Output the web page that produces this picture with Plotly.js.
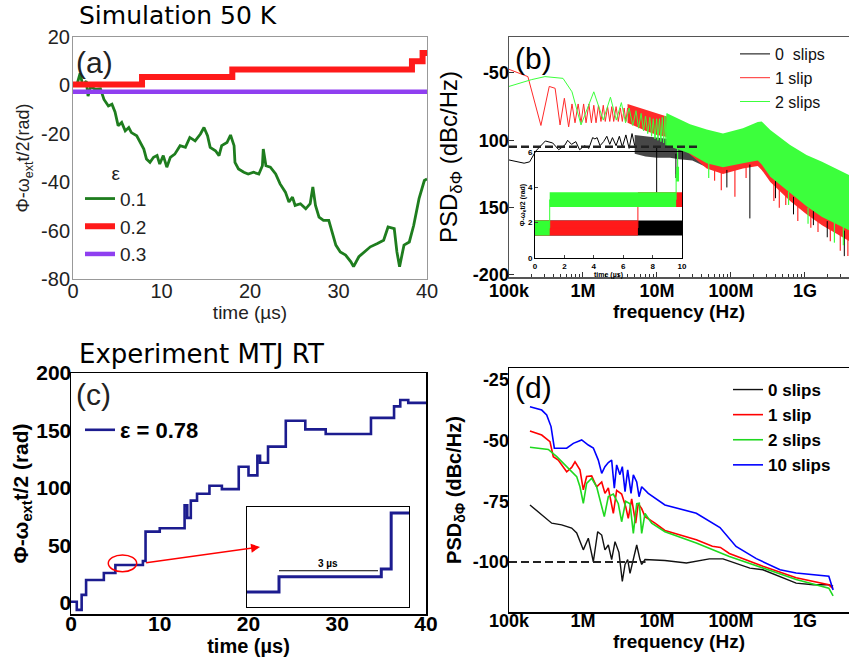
<!DOCTYPE html>
<html><head><meta charset="utf-8">
<script src="https://cdn.plot.ly/plotly-3.0.1.min.js"></script>
<style>html,body{margin:0;padding:0;background:#fff}#p{width:849px;height:657px}</style>
</head><body><div id="p"></div>
<script>
// ---------- Panel (a): simulation phase vs time ----------
const aGreenT = [0,0.5,0.8,1.1,1.5,1.7,2.0,2.5,3.1,3.5,4.0,4.4,4.75,5.1,5.5,5.9,6.3,6.6,7.2,7.6,8.0,8.3,8.7,9.1,9.5,9.8,10.2,10.6,11.0,11.5,12.1,12.7,13.2,13.8,14.4,14.8,15.2,15.5,16.1,16.5,16.8,17.4,17.8,18.2,18.3,18.7,19.3,19.8,20.4,21.0,21.4,21.5,21.8,22.3,22.9,23.4,24.0,24.4,24.8,25.1,25.7,26.3,26.8,27.1,27.4,27.8,28.3,28.9,29.3,29.7,30.2,30.8,31.4,31.7,32.3,32.9,33.6,34.4,35.1,35.6,36.3,36.6,36.9,37.4,38.0,38.5,39.1,39.7,40];
const aGreenV = [0,1,5,0,1.8,-4.4,-0.5,-1.6,-1.4,-5.8,-8.5,-7.8,-11,-16.7,-15.3,-18.8,-17.4,-19.5,-20.8,-23.6,-26.3,-30.4,-31.8,-29.7,-29,-32.5,-29,-33.8,-29.7,-28.4,-24.9,-25.6,-21.5,-22.9,-20.1,-17.4,-20.8,-25.6,-27,-29,-24.9,-23.6,-20.5,-24.9,-31.8,-34.5,-35.9,-36.6,-35.9,-36.6,-33.2,-26.3,-33.2,-33.8,-36.6,-40.7,-44.1,-48.2,-46.2,-49.6,-48.9,-51,-48.9,-42,-49.6,-54.4,-55.8,-55.8,-60.5,-66,-68.8,-70.1,-72.9,-74.9,-70.8,-68.8,-66.7,-65.3,-64,-58.5,-59.2,-68.8,-74.9,-66,-64.7,-57.8,-46.8,-39.3,-38.6];
const aRedT = [0,7.8,18.0,38.3,39.5,40];
const aRedV = [0.4,3.5,6.6,10,13.4,13.4];
const aPurpleT = [0,40];
const aPurpleV = [-2.6,-2.6];
const aLegend = ['0.1','0.2','0.3'];

// ---------- Panel (b): simulated PSD ----------
const bBlackF = [1e5,1.6e5,1.9e5,2.3e5,3.1e5,3.9e5,4.7e5,5.7e5,6.2e5,7e5,8e5,9e5,1.05e6,1.2e6,1.35e6,1.45e6,1.55e6,1.7e6,1.9e6,2.1e6,2.3e6,2.5e6,2.8e6,3.1e6,3.4e6,3.8e6,4.2e6,4.6e6,5e6];
const bBlackV = [-114.6,-117,-116,-108,-100.5,-102,-107,-103.5,-100,-103,-101,-107,-104,-106,-98,-99,-98,-104,-101,-97,-103,-98,-104,-97,-105,-96,-106,-95,-104];
const bRedF = [1e5,1.8e5,2.7e5,3.5e5,4.2e5,4.9e5,5.6e5,6.4e5,7.1e5,7.8e5,8.6e5,9.4e5,1.02e6,1.1e6,1.2e6,1.3e6,1.4e6,1.5e6,1.62e6,1.75e6,1.88e6,2.0e6,2.15e6,2.3e6,2.45e6,2.6e6,2.8e6,3.0e6,3.2e6,3.4e6,3.6e6,3.8e6,4.0e6];
const bRedV = [-47.3,-52.7,-89,-60,-61.4,-88.6,-68.8,-90,-73,-87,-73,-87,-73,-87,-73,-87,-74,-87,-74,-86,-74,-86,-75,-86,-75,-86,-75,-86,-76,-86,-76,-86,-76];
const bGreenF = [1e5,2e5,3.06e5,5.37e5,7.1e5,9.4e5,1.4e6,1.88e6,2.35e6,2.82e6,3.3e6,3.76e6,4.2e6,4.7e6,5.2e6,5.64e6,6.1e6,6.58e6,7.0e6,7.5e6,8.0e6,8.46e6,8.9e6,9.4e6,9.9e6,1.03e7,1.08e7,1.13e7,1.18e7,1.23e7,1.28e7,1.33e7,1.36e7];
const bGreenV = [-60,-55,-52.7,-54,-64,-88.6,-64,-85,-68,-85,-72,-87,-76,-89,-78,-91,-80,-93,-82,-95,-83,-97,-84,-99,-84,-100,-84,-101,-83,-102,-82,-104,-80];
// dense high-frequency envelopes
const bBlackBandF = [5e6,7e6,1e7,1.5e7,2e7,3e7,4.7e7,7.8e7,1.45e8,2.3e8,3.4e8,6.3e8,1.05e9,1.7e9,4e9];
const bBlackUp = [-96,-97,-98,-99,-100,-102,-106,-104,-100,-95,-101,-110,-117,-122,-132];
const bBlackLo = [-110,-112,-113,-113,-114,-115,-120,-123,-120,-118,-129,-142,-152,-161,-171];
const bRedBandF = [4e6,7e6,1e7,1.5e7,2.5e7,4.7e7,7.8e7,1.45e8,2.3e8,2.6e8,3.4e8,6.3e8,1.05e9,1.7e9,4e9];
const bRedUp = [-73,-77,-80,-83,-88,-94,-96,-92,-88,-87,-94,-105,-112,-117,-127];
const bRedLo = [-87,-93,-96,-98,-108,-121,-125,-121,-119,-122,-131,-145,-155,-163,-175];
const bGreenBandF = [1.36e7,2.0e7,2.8e7,4.7e7,7.8e7,1.45e8,2.3e8,2.6e8,3.4e8,6.3e8,1.05e9,1.7e9,4e9];
const bGreenUp = [-80,-84,-88,-92,-95,-91,-86.5,-86,-92.4,-103.5,-111,-116,-126];
const bGreenLo = [-104,-107,-110,-117,-120,-117,-115,-118,-127,-139,-149,-157,-167];
// deepest dips
const bRedSpikeF = [6e7,7.4e7,1.13e8,1.6e8,3.8e8,4.5e8,5.5e8,8e8,1.2e9,1.5e9,2.2e9,3e9,3.8e9];
const bRedSpikeTop = [-118,-120,-119,-117,-132,-135,-139,-146,-152,-156,-161,-165,-168];
const bRedSpikeBot = [-130,-137,-142,-128,-145,-150,-148,-160,-165,-168,-175,-182,-186];
const bBlackSpikeF = [9.9e6,1.8e7,8.8e7,1.8e8,4e8,7e8,1.3e9,2e9,3.4e9];
const bBlackSpikeTop = [-105,-110,-122,-118,-130,-142,-152,-160,-167];
const bBlackSpikeBot = [-139,-128,-135,-158,-143,-155,-163,-172,-186];
const bGreenSpikeF = [1.9e7,5e7,6e8,1.1e9,2.5e9,3.3e9];
const bGreenSpikeTop = [-105,-115,-138,-150,-160,-163];
const bGreenSpikeBot = [-125,-128,-148,-162,-176,-178];
const bFloorF = [1e5,3.5e7];
const bFloorV = [-104.7,-104.7];
const bLegend = ['0  slips','1 slip','2 slips'];
// inset of (b): phase steps
const bInBlackT = [0,10];   const bInBlackL = [1.7];
const bInRedT = [0,7,10];   const bInRedL = [1.7,3.3];
const bInGreenT = [0,1,9.6,9.8]; const bInGreenL = [1.7,3.3,4.75];
const bInNoise = 0.42;

// ---------- Panel (c): experiment phase vs time ----------
const cT = [0,0.65,1.2,1.7,3.7,5.0,8.1,8.4,10.0,12.8,13.1,13.5,14.2,15.6,17.0,18.9,20.0,21.0,21.3,22.2,24.2,26.4,28.7,33.8,36.4,37.1,38.0,40];
const cV = [1,-6,7,20,26,33,36.5,62,65,85,74,89,95,102,99,118.5,111,128,122,136,158.5,151,147,161,171,176.5,174,174];
const cLegend = ['ε = 0.78'];

// ---------- Panel (d): measured PSD ----------
const dBlackF = [1.92e5,3.78e5,5.15e5,7.03e5,8.22e5,1.01e6,1.18e6,1.38e6,1.58e6,1.79e6,1.98e6,2.2e6,2.44e6,2.71e6,3.06e6,3.4e6,3.7e6,4.02e6,4.32e6,4.79e6,5.32e6,5.89e6,6.21e6,6.89e6,1.28e7,2.5e7,3.4e7,5.1e7,7.8e7,1.17e8,1.8e8,2.7e8,4.6e8,7.6e8,1.3e9,2.1e9,2.4e9];
const dBlackV = [-76.5,-84,-84.7,-86,-88,-95,-90.2,-99.9,-87.5,-88.9,-95,-93,-99,-91.6,-96,-108,-101,-99,-104.7,-99,-93,-99,-101,-99,-99.4,-100.4,-99.7,-98.7,-98.7,-100.4,-102.5,-103.2,-105.9,-108.7,-109.4,-109.4,-110];
const dRedF = [1.92e5,2.77e5,3.58e5,3.97e5,4.63e5,6.02e5,7.03e5,7.8e5,9.1e5,1.01e6,1.12e6,1.31e6,1.53e6,1.79e6,1.98e6,2.2e6,2.57e6,2.85e6,3.33e6,3.78e6,4.09e6,4.55e6,5.15e6,5.58e6,6.21e6,6.89e6,9.4e6,1.28e7,3.4e7,5.6e7,7.2e7,9.5e7,2.7e8,7.6e8,2.1e9,2.4e9];
const dRedV = [-46,-47.7,-50.4,-56.6,-58,-62.8,-61,-58.7,-62,-70.3,-64.8,-64.5,-69,-67,-71.7,-69.5,-80,-70.5,-72,-77.2,-82,-74,-84,-76,-78,-81.3,-84,-87,-90.8,-93.5,-94,-96.5,-101.8,-106.5,-109.4,-111];
const dGreenF = [1.92e5,3.4e5,4.42e5,6.02e5,8.22e5,9.1e5,1.01e6,1.12e6,1.31e6,1.53e6,1.94e6,2.2e6,2.57e6,3.0e6,3.33e6,3.78e6,4.32e6,4.79e6,5.32e6,5.77e6,6.21e6,6.89e6,8.47e6,1.28e7,3.4e7,9.5e7,2.7e8,7.6e8,2.1e9,2.4e9];
const dGreenV = [-52.7,-53.6,-56.6,-60.7,-64.8,-69,-75.8,-67.6,-65.5,-69,-81.3,-73,-72,-76,-83.4,-75,-76,-88.2,-76,-75.8,-88.2,-80,-84,-87.5,-92.2,-97.7,-102.5,-107.2,-110.8,-114];
const dBlueF = [1.92e5,2.77e5,3.23e5,3.7e5,4.1e5,6.02e5,7.4e5,9.6e5,1.18e6,1.38e6,1.61e6,1.79e6,1.98e6,2.2e6,2.44e6,2.65e6,2.85e6,3.16e6,3.4e6,3.7e6,4.02e6,4.46e6,4.79e6,5.32e6,5.72e6,6.21e6,7.62e6,1.28e7,3.4e7,7.1e7,1.17e8,2.2e8,4.6e8,7.6e8,2.1e9,2.4e9];
const dBlueV = [-36,-37.4,-39.4,-44.2,-53.1,-53.1,-51.1,-49.7,-51.8,-53,-58,-63.5,-60.7,-59,-58,-69.6,-60,-64,-60.7,-71,-62,-71.7,-64.1,-67,-73.1,-69,-71.7,-76.5,-79.9,-85.8,-93.6,-98.6,-103.2,-104.5,-105.9,-111.5];
const dFloorF = [1e5,7e6];
const dFloorV = [-100,-100];
const dLegend = ['0 slips','1 slip','2 slips','10 slips'];

// ---------- tick labels ----------
const freqTickVals = [1e5,1e6,1e7,1e8,1e9];
const freqTickText = ['100k','1M','10M','100M','1G'];
const bYTickVals = [-50,-100,-150,-200];
const bYTickText = ['-50','100','150','-200'];

// ---------- helpers ----------
const W = 849, H = 657;
const px = v => v / W;
const py = v => 1 - v / H;
const FA = '"Liberation Sans", Arial, sans-serif';
const FT = '"DejaVu Sans", sans-serif';

function band(xs, up, lo) {
  return { x: xs.concat(xs.slice().reverse()), y: up.concat(lo.slice().reverse()) };
}
function spikes(f, top, bot) {
  const x = [], y = [];
  f.forEach((v, i) => { x.push(v, v, null); y.push(top[i], bot[i], null); });
  return { x, y };
}
function stepBand(t, lev, h) {
  const x = [], y = [];
  for (let i = 0; i < lev.length; i++) { x.push(t[i], t[i + 1]); y.push(lev[i] + h, lev[i] + h); }
  for (let i = lev.length - 1; i >= 0; i--) { x.push(t[i + 1], t[i]); y.push(lev[i] - h, lev[i] - h); }
  return { x, y };
}
function stepLine(t, lev) {
  return { x: t, y: lev.concat([lev[lev.length - 1]]) };
}

const traces = [];
// (a)
traces.push({ x: aGreenT, y: aGreenV, xaxis: 'x', yaxis: 'y', mode: 'lines', name: aLegend[0], legend: 'legend', line: { color: '#1e7d1e', width: 2.8 } });
traces.push({ x: aRedT, y: aRedV, xaxis: 'x', yaxis: 'y', mode: 'lines', name: aLegend[1], legend: 'legend', line: { color: '#ff1a1a', width: 6, shape: 'hv' } });
traces.push({ x: aPurpleT, y: aPurpleV, xaxis: 'x', yaxis: 'y', mode: 'lines', name: aLegend[2], legend: 'legend', line: { color: '#8f3ff0', width: 4.5 } });

// (b) black
const bkB = band(bBlackBandF, bBlackUp, bBlackLo);
traces.push({ x: bBlackF, y: bBlackV, xaxis: 'x2', yaxis: 'y2', mode: 'lines', name: bLegend[0], legend: 'legend2', line: { color: '#000', width: 1 } });
traces.push({ x: bkB.x, y: bkB.y, xaxis: 'x2', yaxis: 'y2', mode: 'lines', fill: 'toself', fillcolor: 'rgba(0,0,0,0.72)', line: { width: 0 }, showlegend: false, hoverinfo: 'skip' });
// (b) red
const rdB = band(bRedBandF, bRedUp, bRedLo);
traces.push({ x: bRedF, y: bRedV, xaxis: 'x2', yaxis: 'y2', mode: 'lines', name: bLegend[1], legend: 'legend2', line: { color: '#ff2a2a', width: 1 } });
traces.push({ x: rdB.x, y: rdB.y, xaxis: 'x2', yaxis: 'y2', mode: 'lines', fill: 'toself', fillcolor: '#ff2a2a', line: { width: 0 }, showlegend: false, hoverinfo: 'skip' });
const bkS = spikes(bBlackSpikeF, bBlackSpikeTop, bBlackSpikeBot);
traces.push({ x: bkS.x, y: bkS.y, xaxis: 'x2', yaxis: 'y2', mode: 'lines', line: { color: '#000', width: 1 }, showlegend: false, hoverinfo: 'skip' });
const rdS = spikes(bRedSpikeF, bRedSpikeTop, bRedSpikeBot);
traces.push({ x: rdS.x, y: rdS.y, xaxis: 'x2', yaxis: 'y2', mode: 'lines', line: { color: '#ff2a2a', width: 1.2 }, showlegend: false, hoverinfo: 'skip' });
// (b) green
const grB = band(bGreenBandF, bGreenUp, bGreenLo);
traces.push({ x: bGreenF, y: bGreenV, xaxis: 'x2', yaxis: 'y2', mode: 'lines', name: bLegend[2], legend: 'legend2', line: { color: '#3cff3c', width: 1 } });
traces.push({ x: grB.x, y: grB.y, xaxis: 'x2', yaxis: 'y2', mode: 'lines', fill: 'toself', fillcolor: '#3cff3c', line: { width: 0 }, showlegend: false, hoverinfo: 'skip' });
const grS = spikes(bGreenSpikeF, bGreenSpikeTop, bGreenSpikeBot);
traces.push({ x: grS.x, y: grS.y, xaxis: 'x2', yaxis: 'y2', mode: 'lines', line: { color: '#3cff3c', width: 1.2 }, showlegend: false, hoverinfo: 'skip' });
traces.push({ x: bFloorF, y: bFloorV, xaxis: 'x2', yaxis: 'y2', mode: 'lines', line: { color: '#222', width: 2.5, dash: '8px,4px' }, showlegend: false, hoverinfo: 'skip' });

// (b) inset
[[bInBlackT, bInBlackL, '#000'], [bInRedT, bInRedL, '#ff1a1a'], [bInGreenT, bInGreenL, '#33ff33']].forEach(s => {
  const b = stepBand(s[0], s[1], bInNoise);
  traces.push({ x: b.x, y: b.y, xaxis: 'x5', yaxis: 'y5', mode: 'lines', fill: 'toself', fillcolor: s[2], line: { width: 0 }, showlegend: false, hoverinfo: 'skip' });
  const l = stepLine(s[0], s[1]);
  traces.push({ x: l.x, y: l.y, xaxis: 'x5', yaxis: 'y5', mode: 'lines', line: { color: s[2], width: 1, shape: 'hv' }, showlegend: false, hoverinfo: 'skip' });
});

// (c)
traces.push({ x: cT, y: cV, xaxis: 'x3', yaxis: 'y3', mode: 'lines', name: cLegend[0], legend: 'legend3', line: { color: '#1c1c8f', width: 2.6, shape: 'hv' } });
traces.push({ x: cT, y: cV, xaxis: 'x6', yaxis: 'y6', mode: 'lines', line: { color: '#1c1c8f', width: 3, shape: 'hv' }, showlegend: false, hoverinfo: 'skip' });

// (d)
traces.push({ x: dBlackF, y: dBlackV, xaxis: 'x4', yaxis: 'y4', mode: 'lines', name: dLegend[0], legend: 'legend4', line: { color: '#111', width: 1.4 } });
traces.push({ x: dRedF, y: dRedV, xaxis: 'x4', yaxis: 'y4', mode: 'lines', name: dLegend[1], legend: 'legend4', line: { color: '#ff0000', width: 1.6 } });
traces.push({ x: dGreenF, y: dGreenV, xaxis: 'x4', yaxis: 'y4', mode: 'lines', name: dLegend[2], legend: 'legend4', line: { color: '#1fd81f', width: 1.6 } });
traces.push({ x: dBlueF, y: dBlueV, xaxis: 'x4', yaxis: 'y4', mode: 'lines', name: dLegend[3], legend: 'legend4', line: { color: '#0000ff', width: 1.6 } });
traces.push({ x: dFloorF, y: dFloorV, xaxis: 'x4', yaxis: 'y4', mode: 'lines', line: { color: '#222', width: 2.2, dash: '8px,4px' }, showlegend: false, hoverinfo: 'skip' });

const baseAx = { showgrid: false, zeroline: false, showline: true, mirror: true, automargin: false };
const boldFont = (s) => ({ family: FA, size: s, color: '#000', weight: 'bold' });

const layout = {
  width: W, height: H,
  margin: { l: 0, r: 0, t: 0, b: 0 },
  paper_bgcolor: '#fff', plot_bgcolor: 'rgba(0,0,0,0)',
  showlegend: true,
  xaxis: Object.assign({}, baseAx, { domain: [px(73), px(427)], anchor: 'y', range: [0, 40], tickvals: [0, 10, 20, 30, 40], linecolor: '#999', linewidth: 1, ticks: '', ticklabelstandoff: -6, tickfont: { family: FA, size: 20, color: '#222' }, title: { text: 'time (µs)', font: { family: FA, size: 19, color: '#222' }, standoff: 0 } }),
  yaxis: Object.assign({}, baseAx, { domain: [py(279), py(37)], anchor: 'x', range: [-80, 20], tickvals: [-80, -60, -40, -20, 0, 20], ticktext: ['-80', '-60', '-40', '-20', '0', '20'], linecolor: '#999', linewidth: 1, ticks: '', ticklabelstandoff: -2, tickfont: { family: FA, size: 20, color: '#222' }, title: { text: 'Φ-ω<sub>ext</sub>t/2(rad)', font: { family: FA, size: 18, color: '#222' }, standoff: 6 } }),
  xaxis2: Object.assign({}, baseAx, { domain: [px(509), 1], anchor: 'y2', type: 'log', range: [5, 9.595], tickvals: freqTickVals, ticktext: freqTickText, linecolor: '#555', linewidth: 1.5, ticks: 'inside', ticklen: 5, tickcolor: '#333', ticklabelstandoff: -3, minor: { ticks: 'inside', ticklen: 3, tickcolor: '#333', dtick: 'D1' }, tickfont: boldFont(18), title: { text: 'frequency (Hz)', font: boldFont(19), standoff: 2 } }),
  yaxis2: Object.assign({}, baseAx, { domain: [py(277), py(37)], anchor: 'x2', range: [-201.5, -23.3], tickvals: bYTickVals, ticktext: bYTickText, linecolor: '#555', linewidth: 1.5, ticks: 'inside', ticklen: 5, tickcolor: '#333', ticklabelstandoff: -5, tickfont: boldFont(18), title: { text: 'PSD<sub>δΦ</sub> (dBc/Hz)', font: { family: FA, size: 24, color: '#000' }, standoff: 8 } }),
  xaxis3: Object.assign({}, baseAx, { domain: [px(71), px(426)], anchor: 'y3', range: [0, 40], tickvals: [0, 10, 20, 30, 40], linecolor: '#000', linewidth: 1.5, ticks: '', ticklabelstandoff: -10, tickfont: boldFont(21), title: { text: 'time (µs)', font: boldFont(20), standoff: 0 } }),
  yaxis3: Object.assign({}, baseAx, { domain: [py(614), py(373)], anchor: 'x3', range: [-9.6, 200], tickvals: [0, 50, 100, 150, 200], linecolor: '#000', linewidth: 1.5, ticks: '', ticklabelstandoff: -6, tickfont: boldFont(21), title: { text: 'Φ-ω<sub>ext</sub>t/2 (rad)', font: boldFont(21), standoff: 2 } }),
  xaxis4: Object.assign({}, baseAx, { domain: [px(509), 1], anchor: 'y4', type: 'log', range: [5, 9.595], tickvals: freqTickVals, ticktext: freqTickText, linecolor: '#000', linewidth: 1.5, ticks: '', ticklabelstandoff: -8, tickfont: boldFont(18), title: { text: 'frequency (Hz)', font: boldFont(19), standoff: 0 } }),
  yaxis4: Object.assign({}, baseAx, { domain: [py(612), py(368)], anchor: 'x4', range: [-120.6, -20.06], tickvals: [-25, -50, -75, -100], ticktext: ['-25', '-50', '-75', '-100'], linecolor: '#000', linewidth: 1.5, ticks: '', ticklabelstandoff: -5, tickfont: boldFont(18), title: { text: 'PSD<sub>δΦ</sub> (dBc/Hz)', font: boldFont(20), standoff: 6 } }),
  xaxis5: Object.assign({}, baseAx, { domain: [px(535), px(682)], anchor: 'y5', range: [0, 10], dtick: 2, linecolor: '#000', linewidth: 1, ticks: 'inside', ticklen: 3, tickfont: boldFont(8), title: { text: 'time (µs)', font: boldFont(7), standoff: 0 } }),
  yaxis5: Object.assign({}, baseAx, { domain: [py(258), py(152)], anchor: 'x5', range: [0, 6], dtick: 2, linecolor: '#000', linewidth: 1, ticks: 'inside', ticklen: 3, tickfont: boldFont(8), title: { text: 'Φ-ω<sub>e</sub>t/2 (rad)', font: boldFont(7), standoff: 1 } }),
  xaxis6: Object.assign({}, baseAx, { domain: [px(247), px(409)], anchor: 'y6', range: [4.03, 8.94], linecolor: '#000', linewidth: 1, ticks: '', showticklabels: false }),
  yaxis6: Object.assign({}, baseAx, { domain: [py(607), py(507)], anchor: 'x6', range: [19.2, 64.7], linecolor: '#000', linewidth: 1, ticks: '', showticklabels: false }),
  legend: { x: px(80), y: py(155), xanchor: 'left', yanchor: 'top', bgcolor: 'rgba(0,0,0,0)', borderwidth: 0, font: { family: FA, size: 19, color: '#222' }, title: { text: 'ε', side: 'top center', font: { family: FA, size: 19, color: '#222' } }, tracegroupgap: 0 },
  legend2: { x: px(735), y: py(37), xanchor: 'left', yanchor: 'top', bgcolor: 'rgba(0,0,0,0)', borderwidth: 0, font: { family: FA, size: 16, color: '#111' } },
  legend3: { x: px(80), y: py(409), xanchor: 'left', yanchor: 'top', bgcolor: 'rgba(0,0,0,0)', borderwidth: 0, font: boldFont(22) },
  legend4: { x: px(728), y: py(372), xanchor: 'left', yanchor: 'top', bgcolor: 'rgba(0,0,0,0)', borderwidth: 0, font: boldFont(17) },
  shapes: [
    { type: 'circle', xref: 'x3', yref: 'y3', x0: 4.2, x1: 7.4, y0: 27.2, y1: 41.7, line: { color: '#ff0000', width: 1.5 } },
    { type: 'line', xref: 'x6', yref: 'y6', x0: 5.0, x1: 8.0, y0: 35.7, y1: 35.7, line: { color: '#000', width: 1 } }
  ],
  annotations: [
    { text: 'Simulation 50 K', xref: 'paper', yref: 'paper', x: px(77), y: py(15.5), xanchor: 'left', yanchor: 'middle', showarrow: false, font: { family: FT, size: 25, color: '#000' } },
    { text: 'Experiment MTJ RT', xref: 'paper', yref: 'paper', x: px(77), y: py(354), xanchor: 'left', yanchor: 'middle', showarrow: false, font: { family: FT, size: 26, color: '#000' } },
    { text: '(a)', xref: 'paper', yref: 'paper', x: px(74), y: py(62), xanchor: 'left', yanchor: 'middle', showarrow: false, font: { family: FA, size: 30, color: '#222' } },
    { text: '(b)', xref: 'paper', yref: 'paper', x: px(513), y: py(58), xanchor: 'left', yanchor: 'middle', showarrow: false, font: { family: FA, size: 30, color: '#000' } },
    { text: '(c)', xref: 'paper', yref: 'paper', x: px(74), y: py(394), xanchor: 'left', yanchor: 'middle', showarrow: false, font: { family: FA, size: 30, color: '#222' } },
    { text: '(d)', xref: 'paper', yref: 'paper', x: px(513), y: py(387), xanchor: 'left', yanchor: 'middle', showarrow: false, font: { family: FA, size: 30, color: '#000' } },
    { text: '3 µs', xref: 'x6', yref: 'y6', x: 6.5, y: 35.7, yanchor: 'bottom', showarrow: false, font: boldFont(10) },
    { text: '', xref: 'x3', yref: 'y3', x: 21.3, y: 48.7, axref: 'x3', ayref: 'y3', ax: 8.3, ay: 34.8, showarrow: true, arrowhead: 2, arrowsize: 1.2, arrowwidth: 1.5, arrowcolor: '#ff0000' }
  ]
};

Plotly.newPlot('p', traces, layout, { staticPlot: true, displayModeBar: false });
</script></body></html>
